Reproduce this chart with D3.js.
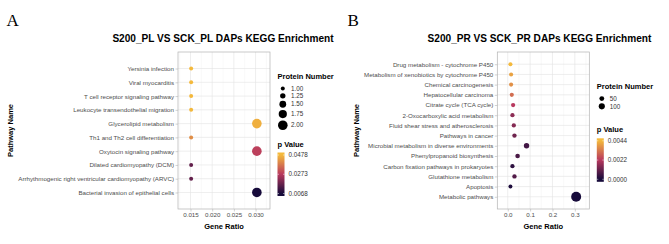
<!DOCTYPE html>
<html>
<head>
<meta charset="utf-8">
<script src="https://cdn.jsdelivr.net/npm/d3@7"></script>
<style>
  body { margin: 0; background: #fff; }
  svg { display: block; font-family: "Liberation Sans", Arial, sans-serif; }
</style>
</head>
<body>
<div id="container"></div>
<script>
let w = 669;
let h = 244;

// ---- panel A : S200_PL VS SCK_PL ----
let pathwaysA = [
  "Yersinia infection",
  "Viral myocarditis",
  "T cell receptor signaling pathway",
  "Leukocyte transendothelial migration",
  "Glycerolipid metabolism",
  "Th1 and Th2 cell differentiation",
  "Oxytocin signaling pathway",
  "Dilated cardiomyopathy (DCM)",
  "Arrhythmogenic right ventricular cardiomyopathy (ARVC)",
  "Bacterial invasion of epithelial cells"
];
let ratioA = [0.01515, 0.01515, 0.01515, 0.01515, 0.0303, 0.01515, 0.0303, 0.01515, 0.01515, 0.0303];
let countA = [1, 1, 1, 1, 2, 1, 2, 1, 1, 2];
let pvalA  = [0.0478, 0.0478, 0.0477, 0.0476, 0.0462, 0.0410, 0.0285, 0.0165, 0.0165, 0.0068];
let xTicksA = [0.015, 0.020, 0.025, 0.030];
let sizeBreaksA = [1, 1.25, 1.5, 1.75, 2];
let pBreaksA = [0.0068, 0.0273, 0.0478];

// ---- panel B : S200_PR VS SCK_PR ----
let pathwaysB = [
  "Drug metabolism - cytochrome P450",
  "Metabolism of xenobiotics by cytochrome P450",
  "Chemical carcinogenesis",
  "Hepatocellular carcinoma",
  "Citrate cycle (TCA cycle)",
  "2-Oxocarboxylic acid metabolism",
  "Fluid shear stress and atherosclerosis",
  "Pathways in cancer",
  "Microbial metabolism in diverse environments",
  "Phenylpropanoid biosynthesis",
  "Carbon fixation pathways in prokaryotes",
  "Glutathione metabolism",
  "Apoptosis",
  "Metabolic pathways"
];
let ratioB = [0.012, 0.015, 0.015, 0.018, 0.024, 0.021, 0.027, 0.030, 0.084, 0.044, 0.021, 0.030, 0.012, 0.306];
let countB = [20, 22, 22, 24, 28, 27, 30, 32, 73, 42, 26, 32, 18, 250];
let pvalB  = [0.0044, 0.0040, 0.0037, 0.0031, 0.0022, 0.0016, 0.0015, 0.0012, 0.0006, 0.0007, 0.0003, 0.0008, 0.0001, 0.0000];
let xTicksB = [0.0, 0.1, 0.2, 0.3];
let sizeBreaksB = [50, 100];
let pBreaksB = [0.0000, 0.0022, 0.0044];

let paletteColors = ["#170b3b", "#b8385e", "#f4b93c"];

let viz = d3.select("#container")
    .append("svg")
      .attr("width", w)
      .attr("height", h)
      .style("background-color", "white");

let defs = viz.append("defs");

function drawPanel(opt){
  let left = opt.left, right = opt.left + 92, top = 52, bottom = 209;

  // x scale: data extent plus 20% on both sides
  let ext = d3.extent(opt.ratio);
  let pad = (ext[1] - ext[0]) * 0.2;
  let xScale = d3.scaleLinear().domain([ext[0] - pad, ext[1] + pad]).range([left, right]);
  let yScale = d3.scalePoint().domain(opt.pathways).range([top, bottom]).padding(1.2);

  let pExt = d3.extent(opt.pBreaks);
  let colorScale = d3.scaleLinear()
      .domain([pExt[0], (pExt[0] + pExt[1]) / 2, pExt[1]])
      .range(paletteColors)
      .clamp(true);

  let rScale = d3.scaleLinear().domain(d3.extent(opt.count)).range(opt.rRange);

  let g = viz.append("g");

  // letter
  g.append("text")
    .attr("x", opt.letterX).attr("y", 25.5)
    .style("font-family", "'Liberation Serif', 'DejaVu Serif', serif")
    .style("font-size", "17px")
    .text(opt.letter);

  // title
  g.append("text")
    .attr("x", opt.titleX).attr("y", 41.5)
    .attr("text-anchor", "middle")
    .style("font-size", "10.1px")
    .style("font-weight", "bold")
    .text(opt.title);

  // grid
  let step = opt.xTicks[1] - opt.xTicks[0];
  let minor = [];
  let dom = xScale.domain();
  for (let v = opt.xTicks[0] - step / 2; v <= dom[1]; v += step) {
    if (v >= dom[0]) minor.push(v);
  }
  g.selectAll(".minor").data(minor).enter().append("line")
    .attr("x1", d => xScale(d)).attr("x2", d => xScale(d))
    .attr("y1", top).attr("y2", bottom)
    .attr("stroke", "#f0f0f0").attr("stroke-width", 0.4);
  g.selectAll(".majorx").data(opt.xTicks).enter().append("line")
    .attr("x1", d => xScale(d)).attr("x2", d => xScale(d))
    .attr("y1", top).attr("y2", bottom)
    .attr("stroke", "#e3e3e3").attr("stroke-width", 0.6);
  g.selectAll(".majory").data(opt.pathways).enter().append("line")
    .attr("x1", left).attr("x2", right)
    .attr("y1", d => yScale(d)).attr("y2", d => yScale(d))
    .attr("stroke", "#e3e3e3").attr("stroke-width", 0.6);

  // dots
  g.selectAll(".dot").data(opt.pathways).enter().append("circle")
    .attr("cx", (d, i) => xScale(opt.ratio[i]))
    .attr("cy", d => yScale(d))
    .attr("r", (d, i) => rScale(opt.count[i]))
    .attr("fill", (d, i) => colorScale(opt.pval[i]));

  // border
  g.append("rect")
    .attr("x", left).attr("y", top)
    .attr("width", right - left).attr("height", bottom - top)
    .attr("fill", "none").attr("stroke", "#b3b3b3").attr("stroke-width", 0.7);

  // axes
  let xAxisGroup = g.append("g")
    .attr("transform", "translate(0," + bottom + ")")
    .call(d3.axisBottom(xScale).tickValues(opt.xTicks).tickFormat(d3.format(opt.fmt)).tickSize(2.5).tickPadding(1.5));
  let yAxisGroup = g.append("g")
    .attr("transform", "translate(" + left + ",0)")
    .call(d3.axisLeft(yScale).tickSize(2.5).tickPadding(1.5));
  [xAxisGroup, yAxisGroup].forEach(function(ax){
    ax.select(".domain").remove();
    ax.selectAll(".tick line").attr("stroke", "#b3b3b3").attr("stroke-width", 0.6);
    ax.selectAll("text")
      .attr("fill", "#4d4d4d")
      .style("font-family", "'Liberation Sans', Arial, sans-serif")
      .style("font-size", "6.2px");
  });

  g.append("text")
    .attr("x", (left + right) / 2).attr("y", 228.5)
    .attr("text-anchor", "middle")
    .style("font-size", "7.5px").style("font-weight", "bold")
    .text("Gene Ratio");

  g.append("text")
    .attr("transform", "translate(" + opt.yTitleX + "," + ((top + bottom) / 2) + ") rotate(-90)")
    .attr("text-anchor", "middle")
    .style("font-size", "7.5px").style("font-weight", "bold")
    .text("Pathway Name");

  // size legend
  let lx = right + 7.5;
  let rL = opt.sizeBreaks.map(rScale);
  let keyW = Math.max(10, 2 * d3.max(rL) + 1);
  let kh = rL.map(r => Math.max(7, 2 * r + 2.3));

  g.append("text")
    .attr("x", lx).attr("y", opt.sizeTitleY)
    .style("font-size", "7.5px").style("font-weight", "bold")
    .text("Protein Number");

  let centers = [];
  let c = opt.sizeTitleY + 6 + kh[0] / 2;
  kh.forEach(function(k, i){
    if (i > 0) c += kh[i - 1] / 2 + k / 2;
    centers.push(c);
  });
  g.selectAll(".skey").data(opt.sizeBreaks).enter().append("circle")
    .attr("cx", lx + keyW / 2)
    .attr("cy", (d, i) => centers[i])
    .attr("r", d => rScale(d))
    .attr("fill", "black");
  g.selectAll(".slab").data(opt.sizeBreaks).enter().append("text")
    .attr("x", lx + keyW + 3)
    .attr("y", (d, i) => centers[i] + 2.2)
    .attr("fill", "#333")
    .style("font-size", "6.3px")
    .text(d => d3.format(opt.sizeFmt)(d));

  // colour legend
  g.append("text")
    .attr("x", lx).attr("y", opt.colorTitleY)
    .style("font-size", "7.5px").style("font-weight", "bold")
    .text("p Value");

  let barTop = opt.colorTitleY + 6, barH = 43.5, barW = 7;
  let barScale = d3.scaleLinear().domain(pExt).range([barTop + barH - 2.5, barTop + 2.5]);
  let gradId = "grad" + opt.letter;
  let grad = defs.append("linearGradient").attr("id", gradId)
    .attr("x1", 0).attr("y1", 1).attr("x2", 0).attr("y2", 0);
  d3.range(0, 1.0001, 0.05).forEach(function(t){
    let yPos = barTop + barH - t * barH;
    grad.append("stop").attr("offset", t).attr("stop-color", colorScale(barScale.invert(yPos)));
  });
  g.append("rect")
    .attr("x", lx).attr("y", barTop)
    .attr("width", barW).attr("height", barH)
    .attr("fill", "url(#" + gradId + ")");
  g.selectAll(".ctick").data(opt.pBreaks).enter().append("line")
    .attr("x1", lx).attr("x2", lx + 1.5)
    .attr("y1", d => barScale(d)).attr("y2", d => barScale(d))
    .attr("stroke", "white").attr("stroke-width", 0.5);
  g.selectAll(".ctick2").data(opt.pBreaks).enter().append("line")
    .attr("x1", lx + barW - 1.5).attr("x2", lx + barW)
    .attr("y1", d => barScale(d)).attr("y2", d => barScale(d))
    .attr("stroke", "white").attr("stroke-width", 0.5);
  g.selectAll(".clab").data(opt.pBreaks).enter().append("text")
    .attr("x", lx + barW + 4)
    .attr("y", d => barScale(d) + 2.2)
    .attr("fill", "#333")
    .style("font-size", "6.3px")
    .text(d => d3.format(".4f")(d));
}

drawPanel({
  letter: "A", letterX: 6.5, title: "S200_PL VS SCK_PL DAPs KEGG Enrichment", titleX: 223,
  left: 178, yTitleX: 12.5,
  pathways: pathwaysA, ratio: ratioA, count: countA, pval: pvalA,
  xTicks: xTicksA, fmt: ".3f", rRange: [2, 4.8],
  sizeBreaks: sizeBreaksA, sizeFmt: ".2f", pBreaks: pBreaksA,
  sizeTitleY: 79, colorTitleY: 146.5
});

drawPanel({
  letter: "B", letterX: 347.5, title: "S200_PR VS SCK_PR DAPs KEGG Enrichment", titleX: 539.5,
  left: 497.3, yTitleX: 359,
  pathways: pathwaysB, ratio: ratioB, count: countB, pval: pvalB,
  xTicks: xTicksB, fmt: ".1f", rRange: [2, 5],
  sizeBreaks: sizeBreaksB, sizeFmt: "d", pBreaks: pBreaksB,
  sizeTitleY: 89, colorTitleY: 132.3
});
</script>
</body>
</html>
